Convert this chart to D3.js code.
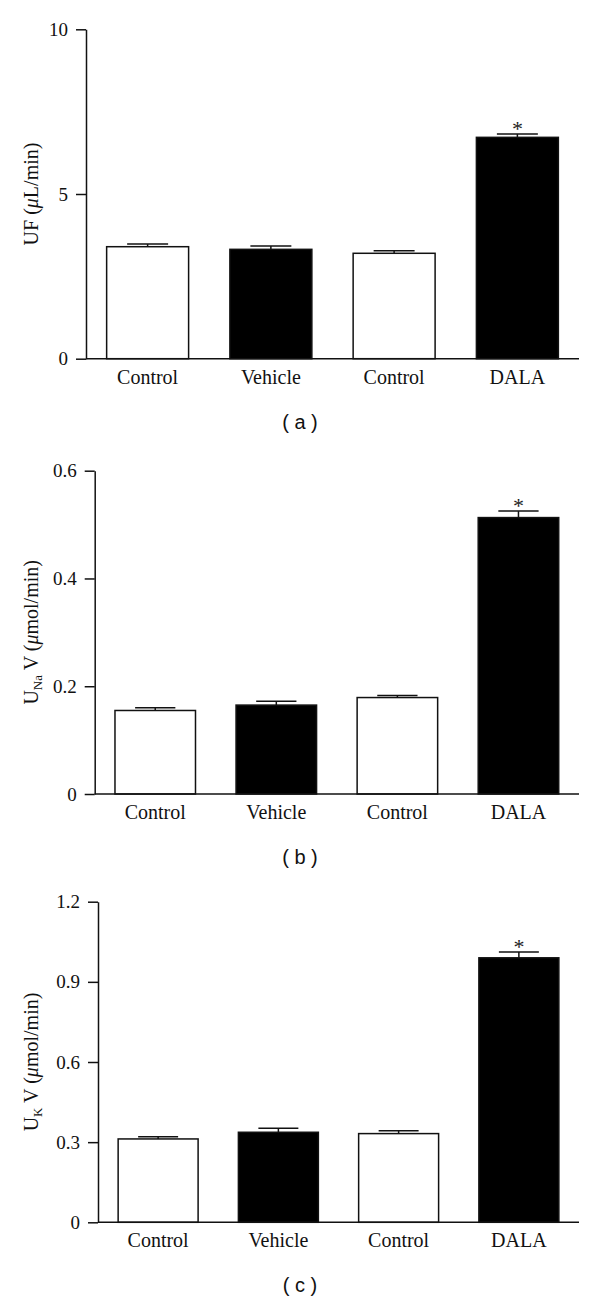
<!DOCTYPE html>
<html>
<head>
<meta charset="utf-8">
<script src="https://cdn.jsdelivr.net/npm/d3@7"></script>
<style>
  body { margin: 0; background: #fff; }
  svg { display: block; }
</style>
</head>
<body>
<script>

var categories = ["Control", "Vehicle", "Control", "DALA"];
var barFills = ["#fff", "#000", "#fff", "#000"];

// (a) UF
var ufMean = [3.40, 3.32, 3.20, 6.72];
var ufErr = [0.08, 0.10, 0.08, 0.10];
var ufTicks = [0, 5, 10];

// (b) UNaV
var unaMean = [0.155, 0.165, 0.179, 0.513];
var unaErr = [0.005, 0.007, 0.004, 0.012];
var unaTicks = [0, 0.2, 0.4, 0.6];

// (c) UKV
var ukMean = [0.312, 0.337, 0.332, 0.990];
var ukErr = [0.008, 0.015, 0.011, 0.022];
var ukTicks = [0, 0.3, 0.6, 0.9, 1.2];

var starred = [false, false, false, true];

var serif = "'Liberation Serif', 'Times New Roman', serif";
var sans = "'Liberation Sans', Arial, sans-serif";

var svg = d3.select("body").append("svg")
    .attr("width", 600)
    .attr("height", 1302);

var oneDec = function (d) { return d === 0 ? "0" : d3.format(".1f")(d); };

var panels = [
    { mean: ufMean, err: ufErr, ticks: ufTicks, fmt: d3.format("d"),
      left: 86, top: 29.3, bottom: 358.7, label: ["UF (", "μ", "L/min)"], sub: null, letter: "( a )" },
    { mean: unaMean, err: unaErr, ticks: unaTicks, fmt: oneDec,
      left: 94.7, top: 470.7, bottom: 794, label: ["U", "Na", " V (", "μ", "mol/min)"], sub: 1, letter: "( b )" },
    { mean: ukMean, err: ukErr, ticks: ukTicks, fmt: oneDec,
      left: 98, top: 901.7, bottom: 1222.3, label: ["U", "K", " V (", "μ", "mol/min)"], sub: 1, letter: "( c )" }
];

var right = 579;

panels.forEach(function (p) {
    var g = svg.append("g");
    var maxTick = p.ticks[p.ticks.length - 1];
    var idx = d3.range(categories.length);

    var x = d3.scaleBand()
        .domain(idx)
        .range([p.left, right])
        .paddingInner(0.335)
        .paddingOuter(0.1675);

    var y = d3.scaleLinear()
        .domain([0, maxTick])
        .range([p.bottom, p.top]);

    // y axis
    var ax = g.append("g")
        .attr("transform", "translate(" + p.left + ",0)")
        .call(d3.axisLeft(y).tickValues(p.ticks).tickFormat(p.fmt)
            .tickSize(10).tickSizeOuter(0).tickPadding(8));
    ax.selectAll("path, line").attr("stroke", "#111").attr("stroke-width", 1.5);
    ax.selectAll("text")
        .style("font-family", serif)
        .style("font-size", "19px")
        .style("fill", "#111");

    // bars
    g.selectAll("rect.bar")
        .data(idx)
        .enter().append("rect")
            .attr("class", "bar")
            .attr("x", function (i) { return x(i); })
            .attr("y", function (i) { return y(p.mean[i]); })
            .attr("width", x.bandwidth())
            .attr("height", function (i) { return y(0) - y(p.mean[i]); })
            .attr("fill", function (i) { return barFills[i]; })
            .attr("stroke", "#111")
            .attr("stroke-width", 1.5);

    // error bars
    var capW = x.bandwidth() / 2;
    var cx = function (i) { return x(i) + x.bandwidth() / 2; };
    var eb = g.selectAll("g.err")
        .data(idx)
        .enter().append("g")
            .attr("class", "err");
    eb.append("line")
        .attr("x1", cx).attr("x2", cx)
        .attr("y1", function (i) { return y(p.mean[i]); })
        .attr("y2", function (i) { return y(p.mean[i] + p.err[i]); })
        .attr("stroke", "#111").attr("stroke-width", 1.5);
    eb.append("line")
        .attr("x1", function (i) { return cx(i) - capW / 2; })
        .attr("x2", function (i) { return cx(i) + capW / 2; })
        .attr("y1", function (i) { return y(p.mean[i] + p.err[i]); })
        .attr("y2", function (i) { return y(p.mean[i] + p.err[i]); })
        .attr("stroke", "#111").attr("stroke-width", 1.5);

    // significance star
    g.selectAll("text.star")
        .data(idx.filter(function (i) { return starred[i]; }))
        .enter().append("text")
            .attr("class", "star")
            .attr("x", cx)
            .attr("y", function (i) { return y(p.mean[i] + p.err[i]) + 2; })
            .attr("text-anchor", "middle")
            .style("font-family", serif)
            .style("font-size", "22px")
            .style("fill", "#222")
            .text("*");

    // baseline
    g.append("line")
        .attr("x1", p.left).attr("x2", right)
        .attr("y1", y(0)).attr("y2", y(0))
        .attr("stroke", "#111").attr("stroke-width", 1.5);

    // category labels
    g.selectAll("text.cat")
        .data(idx)
        .enter().append("text")
            .attr("class", "cat")
            .attr("x", cx)
            .attr("y", y(0) + 25)
            .attr("text-anchor", "middle")
            .style("font-family", serif)
            .style("font-size", "20px")
            .style("fill", "#111")
            .text(function (i) { return categories[i]; });

    // y label
    var cy = (p.top + p.bottom) / 2;
    var yl = g.append("text")
        .attr("class", "ylab")
        .attr("transform", "translate(38," + cy + ") rotate(-90)")
        .attr("text-anchor", "middle")
        .style("font-family", serif)
        .style("font-size", "20px")
        .style("fill", "#111");
    p.label.forEach(function (s, k) {
        var t = yl.append("tspan").text(s);
        if (s === "μ") t.style("font-style", "italic");
        if (p.sub !== null && k === p.sub) {
            t.style("font-size", "13px").attr("dy", 4);
        } else if (p.sub !== null && k === p.sub + 1) {
            t.attr("dy", -4);
        }
    });

    // panel letter
    g.append("text")
        .attr("class", "panel")
        .attr("x", 300)
        .attr("y", y(0) + 70)
        .attr("text-anchor", "middle")
        .style("font-family", sans)
        .style("font-size", "20px")
        .style("fill", "#111")
        .style("white-space", "pre")
        .text(p.letter);
});
</script>
</body>
</html>
